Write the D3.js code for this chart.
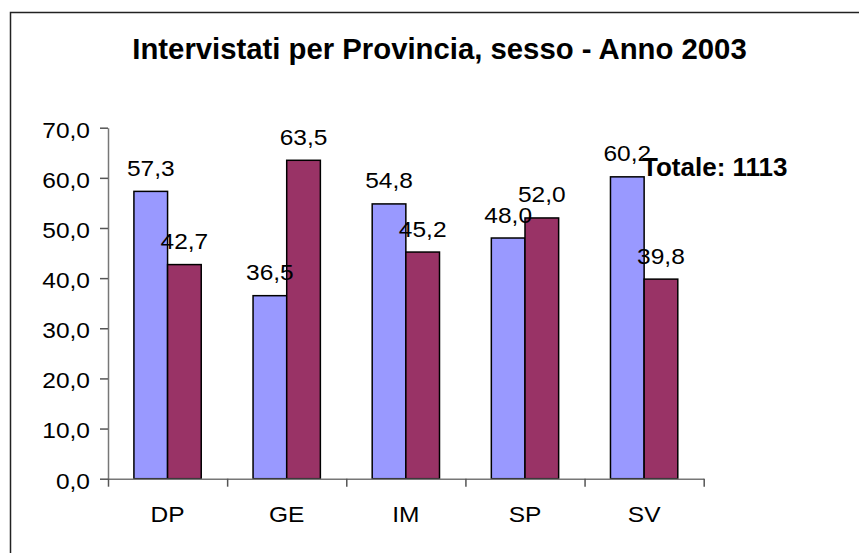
<!DOCTYPE html>
<html>
<head>
<meta charset="utf-8">
<script src="https://cdn.jsdelivr.net/npm/d3@7"></script>
<style>
  body { margin: 0; background: #fff; }
  svg { display: block; font-family: "Liberation Sans", Arial, sans-serif; }
</style>
</head>
<body>
<div id="chart"></div>
<script>
// values
var province = ["DP", "GE", "IM", "SP", "SV"];
var serieBlu = [57.3, 36.5, 54.8, 48.0, 60.2];
var serieRossa = [42.7, 63.5, 45.2, 52.0, 39.8];
var yTicks = [0, 10, 20, 30, 40, 50, 60, 70];
var titolo = "Intervistati per Provincia, sesso - Anno 2003";
var totale = "Totale: 1113";

var W = 859, H = 553;
var plot = {left: 108, right: 703.7, top: 127.7, bottom: 478.7};
var sx = 1.14; // the text in the picture is a bit wide

var it = d3.formatLocale({decimal: ",", thousands: ".", grouping: [3], currency: ["", "€"]});
var fmt = it.format(".1f");

var svg = d3.select("#chart").append("svg")
    .attr("width", W)
    .attr("height", H);

// outer frame (cut on right and bottom)
svg.append("rect")
    .attr("x", 10.5).attr("y", 12.5)
    .attr("width", 1000).attr("height", 1000)
    .attr("fill", "none")
    .attr("stroke", "#222")
    .attr("stroke-width", 1.5);

svg.append("text")
    .attr("x", 439.5).attr("y", 59.3)
    .attr("text-anchor", "middle")
    .style("font-size", "29.3px")
    .style("font-weight", "700")
    .text(titolo);

var x = d3.scaleBand()
    .domain(province)
    .range([plot.left, plot.right])
    .paddingInner(0.435)
    .paddingOuter(0.2175);

var x1 = d3.scaleBand()
    .domain(["blu", "rossa"])
    .range([0, x.bandwidth()]);

var y = d3.scaleLinear()
    .domain([0, 70])
    .range([plot.bottom, plot.top]);

var colore = {blu: "#9999FF", rossa: "#993366"};

var righe = [];
province.forEach(function(p, i) {
   righe.push({prov: p, s: "blu", v: serieBlu[i]});
   righe.push({prov: p, s: "rossa", v: serieRossa[i]});
});

// bars
svg.append("g").selectAll("rect")
    .data(righe).enter()
    .append("rect")
    .attr("x", function(d) { return x(d.prov) + x1(d.s); })
    .attr("y", function(d) { return y(d.v); })
    .attr("width", x1.bandwidth())
    .attr("height", function(d) { return y(0) - y(d.v); })
    .attr("fill", function(d) { return colore[d.s]; })
    .attr("stroke", "#000")
    .attr("stroke-width", 1.5);

// y axis
var gy = svg.append("g")
    .attr("transform", "translate(" + plot.left + ",0)")
    .call(d3.axisLeft(y).tickValues(yTicks).tickFormat(fmt).tickSize(8).tickSizeOuter(0));
gy.select(".domain").attr("stroke", "#777").attr("stroke-width", 1.5);
gy.selectAll(".tick line").attr("stroke", "#555").attr("stroke-width", 1.5);
gy.selectAll(".tick text")
    .attr("x", 0)
    .attr("dy", "9.3px")
    .attr("transform", "translate(-18,0) scale(" + sx + ",1)")
    .attr("fill", "#000")
    .style("font-size", "21.5px")
    .style("font-family", "'Liberation Sans', Arial, sans-serif");

// x axis: ticks between the categories
var xEdge = d3.scaleLinear().domain([0, province.length]).range([plot.left, plot.right]);
var gx = svg.append("g")
    .attr("transform", "translate(0," + plot.bottom + ")")
    .call(d3.axisBottom(xEdge).ticks(province.length).tickFormat("").tickSize(8).tickSizeOuter(0));
gx.select(".domain").attr("stroke", "#777").attr("stroke-width", 1.5);
gx.selectAll(".tick line").attr("stroke", "#555").attr("stroke-width", 1.5);

svg.append("g").selectAll("text")
    .data(province).enter()
    .append("text")
    .attr("transform", function(d) {
       return "translate(" + (x(d) + x.bandwidth() / 2) + ",522) scale(" + sx + ",1)";
    })
    .attr("text-anchor", "middle")
    .style("font-size", "21.5px")
    .text(function(d) { return d; });

// value labels
svg.append("g").selectAll("text")
    .data(righe).enter()
    .append("text")
    .attr("transform", function(d) {
       var cx = x(d.prov) + x1(d.s) + x1.bandwidth() / 2;
       return "translate(" + cx + "," + (y(d.v) - 15.5) + ") scale(" + sx + ",1)";
    })
    .attr("text-anchor", "middle")
    .style("font-size", "21.5px")
    .text(function(d) { return fmt(d.v); });

svg.append("text")
    .attr("x", 642).attr("y", 176)
    .style("font-size", "26px")
    .style("font-weight", "700")
    .text(totale);
</script>
</body>
</html>
